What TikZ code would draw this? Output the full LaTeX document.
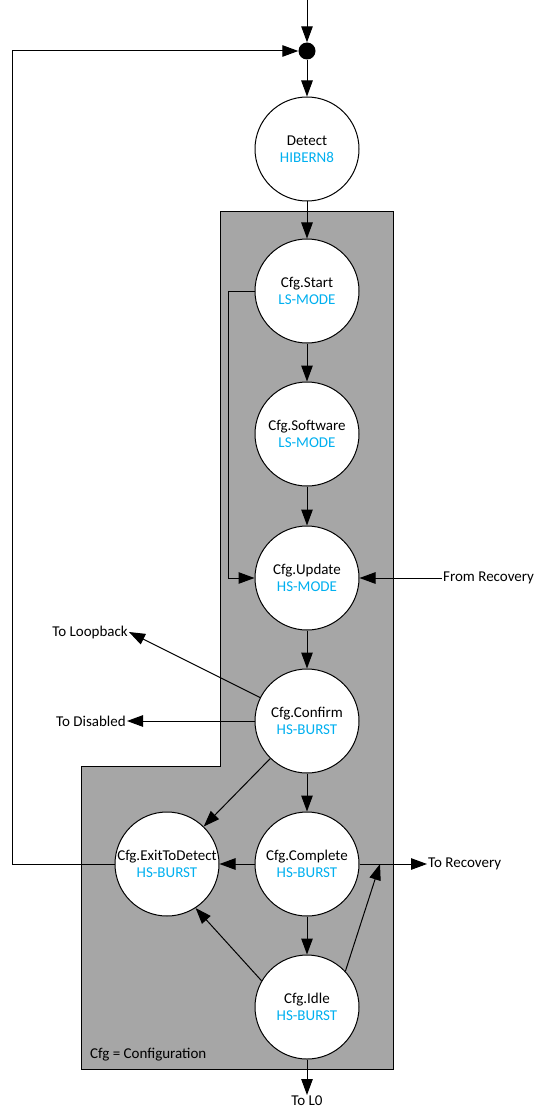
\documentclass[tikz,border=0pt]{standalone}
\usepackage{fontspec}
\setmainfont{Carlito}
\usetikzlibrary{arrows.meta}

\definecolor{modeblue}{HTML}{00B0F0}
\definecolor{cfggray}{HTML}{A6A6A6}

\tikzset{
  state/.style={shape=circle,draw=black,fill=white,line width=1pt,minimum size=104pt,inner sep=0pt,align=center},
  tag/.style={inner sep=1pt},
}

\begin{document}
\begin{tikzpicture}[x=1pt, y=-1pt, > = {Triangle[length=16pt,width=11.5pt]}, font=\fontsize{15}{17.5}\selectfont] % pixel grid, y downwards
  \useasboundingbox (0,0) rectangle (540,1115);

  % Configuration area
  \draw[fill=cfggray, line width=1pt] (220,212) -- (393,212) -- (393,1069) -- (81,1069) -- (81,766) -- (220,766) -- cycle;
  \node[tag, anchor=base west] (cfgnote) at (89,1058) {Cfg = Configuration};

  \node[shape=circle,fill=black,minimum size=17pt,inner sep=0pt] (dot) at (307,51) {};
  \coordinate (entry) at (307,0);

  \node[state] (detect)   at (307,149)  {Detect\\\textcolor{modeblue}{HIBERN8}};
  \node[state] (start)    at (307,291)  {Cfg.Start\\\textcolor{modeblue}{LS-MODE}};
  \node[state] (software) at (307,434)  {Cfg.Software\\\textcolor{modeblue}{LS-MODE}};
  \node[state] (update)   at (307,578)  {Cfg.Update\\\textcolor{modeblue}{HS-MODE}};
  \node[state] (confirm)  at (307,721)  {Cfg.Confirm\\\textcolor{modeblue}{HS-BURST}};
  \node[state] (complete) at (307,864)  {Cfg.Complete\\\textcolor{modeblue}{HS-BURST}};
  \node[state] (exit)     at (167,864)  {Cfg.ExitToDetect\\\textcolor{modeblue}{HS-BURST}};
  \node[state] (idle)     at (307,1007) {Cfg.Idle\\\textcolor{modeblue}{HS-BURST}};

  \node[tag, anchor=east] (toloop)  at (129,632)  {To Loopback};
  \node[tag, anchor=east] (todis)   at (127,721)  {To Disabled};
  \node[tag, anchor=west] (fromrec) at (442,578)  {From Recovery};
  \node[tag, anchor=west] (torec)   at (427,864)  {To Recovery};
  \node[tag, anchor=north] (tol0)   at (307,1095) {To L0};

  \coordinate (bypass) at (228,291);
  \coordinate (loopl)  at (12,864);
  \coordinate (join)   at (380,864);

  \path [->, line width=1pt] (entry) edge (dot);
  \path [->, line width=1pt] (dot) edge (detect);
  \path [->, line width=1pt] (detect) edge (start);
  \path [->, line width=1pt] (start) edge (software);
  \path [->, line width=1pt] (software) edge (update);
  \path [->, line width=1pt] (update) edge (confirm);
  \path [->, line width=1pt] (confirm) edge (complete);
  \path [->, line width=1pt] (complete) edge (idle);
  \path [->, line width=1pt] (complete) edge (exit);
  \path [->, line width=1pt] (confirm) edge (exit);
  \path [->, line width=1pt] (idle.150) edge (exit.-57);
  \path [->, line width=1pt] (idle.43) edge (join);
  \path [->, line width=1pt] (complete) edge (torec.west);
  \path [->, line width=1pt] (fromrec.west) edge (update);
  \path [->, line width=1pt] (confirm) edge (toloop.east);
  \path [->, line width=1pt] (confirm) edge (todis.east);
  \path [->, line width=1pt] (idle) edge (tol0.north);
  \draw [->, line width=1pt] (start.west) -- (bypass) |- (update.west);
  \draw [->, line width=1pt] (exit.west) -- (loopl) |- (dot);
\end{tikzpicture}
\end{document}
